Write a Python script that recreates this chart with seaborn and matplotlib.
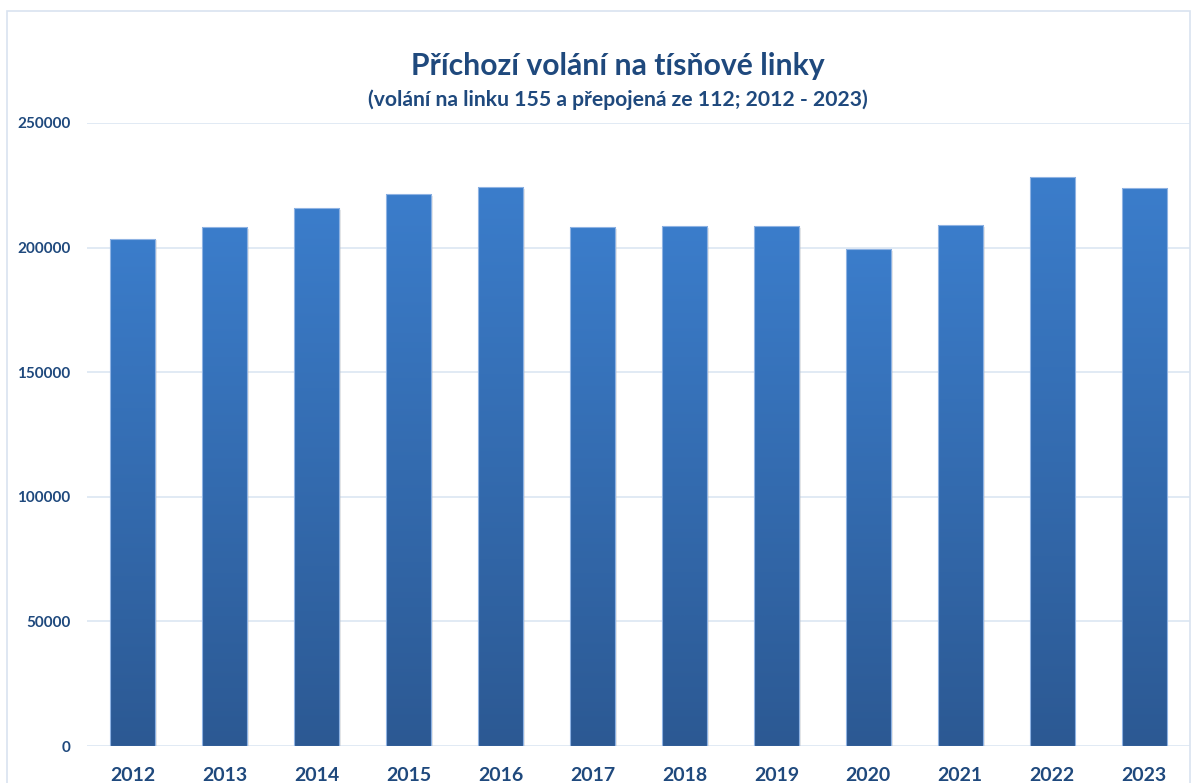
import numpy as np
import pandas as pd
import matplotlib
matplotlib.use("Agg")
import matplotlib.pyplot as plt
import seaborn as sns
from matplotlib.colors import LinearSegmentedColormap
from matplotlib.patches import Rectangle

years = ["2012", "2013", "2014", "2015", "2016", "2017", "2018", "2019", "2020", "2021", "2022", "2023"]
calls = [203600, 208200, 215800, 221400, 224200, 208200, 208600, 208600, 199300, 209000, 228200, 223800]
yticks = [0, 50000, 100000, 150000, 200000, 250000]

title = "Příchozí volání na tísňové linky"
subtitle = "(volání na linku 155 a přepojená ze 112; 2012 - 2023)"

navy = "#1F497D"
grid_c = "#DCE6F2"

sns.set_theme(style="white")
plt.rcParams["font.family"] = ["Lato", "DejaVu Sans"]

W, H = 1195, 783
fig = plt.figure(figsize=(W / 100, H / 100), dpi=100)
fig.patch.set_facecolor("white")
ax = fig.add_axes([87 / W, 1 - 746 / H, (1190 - 87) / W, (746 - 123) / H])

df = pd.DataFrame({"year": years, "calls": calls})
sns.barplot(data=df, x="year", y="calls", ax=ax, width=0.49, color="#3A78C4",
            edgecolor="#8FB3E3", linewidth=0.8, zorder=3)

# gradient fill per bar
cmap = LinearSegmentedColormap.from_list("g", ["#2C5993", "#3B7DCB"])
grad = np.linspace(0, 1, 256).reshape(-1, 1)
for p in ax.patches:
    x0, y0 = p.get_x(), p.get_y()
    w, h = p.get_width(), p.get_height()
    sh = Rectangle((x0 + 0.02, y0), w, h - 600, facecolor="#BBBBBB", alpha=0.35,
                   edgecolor="none", zorder=2)
    ax.add_patch(sh)
    im = ax.imshow(grad, extent=(x0, x0 + w, y0, y0 + h), origin="lower", cmap=cmap,
                   aspect="auto", zorder=3.5, interpolation="bicubic")
    im.set_clip_path(p)
    p.set_facecolor("none")
    p.set_zorder(4)
ax.set_xlim(-0.5, 11.5)
ax.set_ylim(0, 250000)

ax.set_yticks(yticks)
ax.set_yticklabels([str(v) for v in yticks])
ax.yaxis.grid(True, color=grid_c, linewidth=1.2, zorder=0)
ax.xaxis.grid(False)
ax.set_axisbelow(True)
for s in ax.spines.values():
    s.set_visible(False)
ax.set_xlabel("")
ax.set_ylabel("")
ax.tick_params(axis="y", length=0, pad=12, labelsize=11, labelcolor=navy)
ax.tick_params(axis="x", length=0, pad=15, labelsize=14, labelcolor=navy)
for lab in ax.get_yticklabels() + ax.get_xticklabels():
    lab.set_fontweight("bold")

fig.text(0.5172, 1 - 74.5 / H, title, ha="center", va="baseline", fontsize=21.7,
         fontweight="bold", color=navy)
fig.text(0.5172, 1 - 106 / H, subtitle, ha="center", va="baseline", fontsize=15.2,
         fontweight="bold", color=navy)

# outer chart border
fig.patches.append(Rectangle((7 / W, -0.01), (1190 - 7) / W, 1 - 11 / H + 0.01,
                             transform=fig.transFigure, fill=False, edgecolor="#D9E3F0",
                             linewidth=1.2))

fig.savefig("out.png", dpi=100, facecolor="white")
